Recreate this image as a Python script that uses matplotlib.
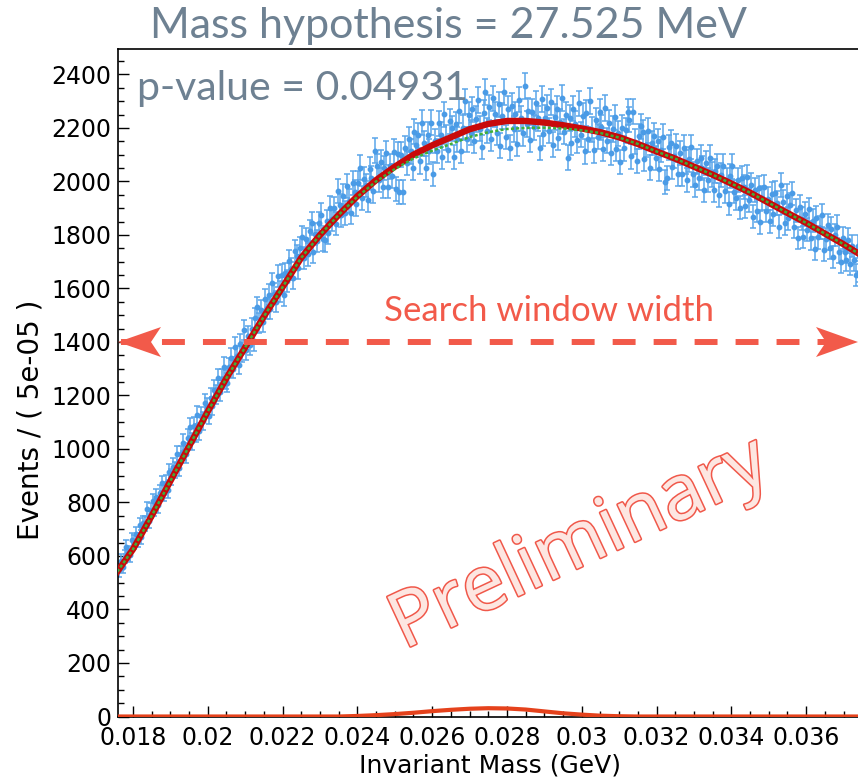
import numpy as np
import matplotlib
matplotlib.use('Agg')
import matplotlib.pyplot as plt
from matplotlib.patches import Polygon
from matplotlib.lines import Line2D
import matplotlib.patheffects as pe
from matplotlib.ticker import MultipleLocator, FuncFormatter

plt.rcParams['lines.scale_dashes'] = False

# ---- data: events per bin (bin width 5e-05 GeV, starting at 0.0176 GeV) ----
counts = [
    546, 583, 560, 597, 634, 611, 603, 660, 652, 682,
    661, 714, 671, 724, 721, 774, 731, 769, 804, 777,
    822, 790, 836, 871, 836, 872, 845, 915, 896, 934,
    920, 980, 930, 981, 1024, 992, 980, 1041, 1081, 1029,
    1087, 1060, 1128, 1066, 1124, 1105, 1170, 1157, 1125, 1192,
    1160, 1222, 1204, 1264, 1213, 1262, 1307, 1259, 1248, 1305,
    1339, 1300, 1382, 1348, 1315, 1391, 1363, 1444, 1371, 1422,
    1389, 1450, 1402, 1488, 1530, 1471, 1518, 1474, 1560, 1526,
    1577, 1523, 1619, 1580, 1551, 1647, 1588, 1649, 1575, 1656,
    1627, 1703, 1674, 1640, 1741, 1722, 1677, 1752, 1791, 1715,
    1784, 1727, 1815, 1843, 1736, 1804, 1777, 1844, 1876, 1783,
    1780, 1852, 1809, 1901, 1858, 1900, 1842, 1964, 1911, 1873,
    1945, 1882, 1984, 1926, 1883, 1995, 1962, 1914, 1996, 2052,
    1938, 2009, 1985, 1931, 2047, 2013, 1964, 2115, 2056, 2006,
    2071, 1981, 2051, 2106, 1981, 2056, 2021, 2111, 1971, 2101,
    1961, 2100, 1960, 2124, 2069, 2158, 2112, 2051, 2185, 2138,
    2172, 2075, 2219, 2142, 2050, 2174, 2112, 2220, 2028, 2151,
    2114, 2217, 2175, 2093, 2251, 2164, 2117, 2225, 2198, 2091,
    2214, 2157, 2265, 2113, 2201, 2299, 2157, 2250, 2182, 2269,
    2151, 2233, 2305, 2197, 2129, 2256, 2333, 2190, 2277, 2159,
    2310, 2251, 2182, 2288, 2134, 2245, 2335, 2166, 2271, 2126,
    2281, 2196, 2251, 2141, 2306, 2236, 2181, 2356, 2215, 2265,
    2155, 2259, 2203, 2292, 2236, 2125, 2309, 2178, 2237, 2276,
    2189, 2298, 2137, 2241, 2270, 2164, 2223, 2312, 2186, 2250,
    2089, 2237, 2145, 2272, 2215, 2153, 2292, 2175, 2244, 2112,
    2256, 2158, 2300, 2193, 2116, 2229, 2167, 2260, 2203, 2121,
    2274, 2152, 2220, 2108, 2196, 2239, 2122, 2180, 2073, 2201,
    2124, 2191, 2259, 2231, 2094, 2261, 2149, 2076, 2168, 2206,
    2183, 2085, 2137, 2189, 2052, 2144, 2171, 2088, 2150, 2047,
    2119, 2167, 1999, 2011, 2128, 2145, 2053, 2095, 2132, 2029,
    2107, 2029, 2126, 2073, 2005, 2082, 2129, 2026, 1988, 2075,
    2012, 2089, 2051, 1968, 2070, 2007, 2089, 2026, 1968, 2040,
    2057, 1949, 2025, 2057, 1964, 2006, 1917, 2019, 2056, 1962,
    1939, 2005, 1902, 2013, 1980, 1907, 2018, 1930, 1986, 1868,
    1969, 1890, 1976, 1847, 1938, 1979, 1890, 1936, 1852, 1953,
    1877, 1958, 1919, 1831, 1987, 1923, 1844, 1946, 1862, 1913,
    1955, 1831, 1892, 1789, 1905, 1861, 1792, 1879, 1820, 1896,
    1787, 1853, 1749, 1865, 1791, 1827, 1873, 1744, 1785, 1836,
    1752, 1823, 1719, 1800, 1831, 1737, 1698, 1789, 1735, 1706,
    1782, 1693, 1759, 1705, 1651, 1757, 1663, 1644,
]
bin_width = 5e-05
mass_start = 0.0176
bin_centers = mass_start + bin_width * (np.arange(len(counts)) + 0.5)
errors = np.sqrt(np.array(counts, dtype=float))

# ---- fit curves sampled every 0.5 MeV from 0.0175 to 0.0375 GeV ----
fit_mass = 0.0175 + 0.0005 * np.arange(41)
fit_total = [525, 625, 750, 880, 1010, 1140, 1265, 1380, 1495, 1605,
             1715, 1800, 1875, 1945, 2005, 2055, 2100, 2135, 2165, 2195,
             2215, 2226, 2226, 2220, 2210, 2198, 2184, 2165, 2140, 2112,
             2085, 2055, 2025, 1992, 1958, 1920, 1882, 1845, 1805, 1765, 1722]
fit_background = [525, 625, 750, 880, 1010, 1140, 1265, 1380, 1495, 1605,
                  1715, 1800, 1875, 1943, 2000, 2046, 2086, 2115, 2140, 2166,
                  2184, 2196, 2200, 2201, 2198, 2191, 2181, 2164, 2140, 2112,
                  2085, 2055, 2025, 1992, 1958, 1920, 1882, 1845, 1805, 1765, 1722]
fit_signal = [0, 0, 0, 0, 0, 0, 0, 0, 0, 0,
              0, 0, 0, 2, 5, 9, 14, 20, 25, 29,
              31, 30, 26, 19, 12, 7, 3, 1, 0, 0,
              0, 0, 0, 0, 0, 0, 0, 0, 0, 0, 0]

title_text = 'Mass hypothesis = 27.525 MeV'
pvalue_text = 'p-value = 0.04931'
window_text = 'Search window width'
stamp_text = 'Preliminary'

W, H = 858, 778
fig = plt.figure(figsize=(W / 100, H / 100), dpi=100)
ax = fig.add_axes([118 / W, (H - 716.5) / H, 744.3 / W, 667.5 / H])
ax.set_xlim(0.0176, 0.0375)
ax.set_ylim(0, 2495)

ax.errorbar(bin_centers, counts, yerr=errors, fmt='o', ms=3.2, color='#4a9be6',
            ecolor='#5aa5ea', elinewidth=1.1, capsize=2.3, capthick=1.1, zorder=2)
ax.plot(fit_mass, fit_total, color='#c80a0a', lw=4.6, zorder=3)
ax.plot(fit_mass, fit_background, color='#3faf3a', lw=1.8, ls=(0, (2.2, 1.6)), zorder=4)
ax.plot(fit_mass, fit_signal, color='#e5421c', lw=3.0, zorder=5)

ax.xaxis.set_major_locator(MultipleLocator(0.002))
ax.xaxis.set_minor_locator(MultipleLocator(0.0005))
ax.yaxis.set_major_locator(MultipleLocator(200))
ax.yaxis.set_minor_locator(MultipleLocator(50))
ax.xaxis.set_major_formatter(FuncFormatter(lambda v, p: '%g' % round(v, 6)))
ax.yaxis.set_major_formatter(FuncFormatter(lambda v, p: '%d' % round(v)))
ax.tick_params(which='both', direction='in', top=False, right=False, width=1.0)
ax.tick_params(which='major', length=8)
ax.tick_params(which='minor', length=4)
ax.tick_params(axis='x', labelsize=17, pad=7)
ax.tick_params(axis='y', labelsize=17, pad=5)
for s in ax.spines.values():
    s.set_linewidth(1.2)

ax.set_xlabel('Invariant Mass (GeV)', fontsize=18, labelpad=2)
fig.text(30 / W, 1 - 420 / H, 'Events / ( 5e-05 )', rotation=90, ha='center',
         va='center', fontsize=20)

grey = '#6e8192'
fig.text(150 / W, 1 - 38 / H, title_text, fontsize=31, color=grey, family='Lato',
         va='baseline')
fig.text(137 / W, 1 - 100 / H, pvalue_text, fontsize=29.5, color=grey, family='Lato',
         va='baseline')

red = '#f25a4a'
fig.text(549 / W, 1 - 321 / H, window_text, ha='center', va='baseline', fontsize=25,
         color=red, family='Lato')

def fxy(x, y):
    return (x / W, 1 - y / H)

fig.add_artist(Line2D([121 / W, 852 / W], [1 - 342 / H, 1 - 342 / H],
                      transform=fig.transFigure, color=red, lw=4.3,
                      dashes=(16.5, 13), solid_capstyle='butt',
                      dash_capstyle='butt'))
left_head = [fxy(118, 342), fxy(161, 327), fxy(151, 342), fxy(161, 357)]
right_head = [fxy(858, 342), fxy(816, 327), fxy(826, 342), fxy(816, 357)]
for pts in (left_head, right_head):
    fig.add_artist(Polygon(pts, closed=True, transform=fig.transFigure,
                           facecolor=red, edgecolor='none'))

fig.text(580 / W, 1 - 545 / H, stamp_text, rotation=25, ha='center', va='center',
         fontsize=55, color='#fde6e1', family='Open Sans',
         path_effects=[pe.Stroke(linewidth=2.2, foreground='#f0584a'), pe.Normal()])

fig.savefig('out.png', dpi=100)
